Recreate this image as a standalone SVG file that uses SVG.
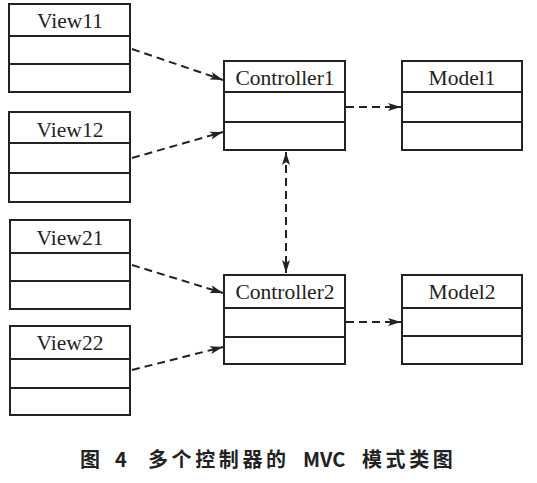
<svg xmlns="http://www.w3.org/2000/svg" width="537" height="483" viewBox="0 0 537 483">
<defs>
<style>
.box{fill:none;stroke:#222;stroke-width:2}
.div{stroke:#222;stroke-width:2}
.lbl{font-family:"Liberation Serif","Times New Roman",serif;font-size:21.5px;fill:#222;text-anchor:middle}
.con{stroke:#222;stroke-width:2;stroke-dasharray:8 5;fill:none}
.cap{font-family:"Noto Sans CJK SC","Noto Sans",sans-serif;font-weight:bold;font-size:20px;fill:#222}
</style>
<marker id="ah" markerUnits="userSpaceOnUse" markerWidth="14" markerHeight="10" refX="13" refY="4" orient="auto-start-reverse" viewBox="0 0 14 8">
<path d="M0,0 L13,4 L0,8 L3,4 z" fill="#222"/>
</marker>
</defs>
<rect width="537" height="483" fill="#fff"/>

<g id="view11">
<rect class="box" x="9" y="4" width="121" height="88"/>
<line class="div" x1="9" y1="36" x2="130" y2="36"/>
<line class="div" x1="9" y1="64" x2="130" y2="64"/>
<text class="lbl" x="70" y="28">View11</text>
</g>
<g id="view12">
<rect class="box" x="9" y="112" width="121" height="90"/>
<line class="div" x1="9" y1="143" x2="130" y2="143"/>
<line class="div" x1="9" y1="173" x2="130" y2="173"/>
<text class="lbl" x="70" y="137">View12</text>
</g>
<g id="view21">
<rect class="box" x="10" y="220" width="120" height="89"/>
<line class="div" x1="10" y1="253" x2="130" y2="253"/>
<line class="div" x1="10" y1="281" x2="130" y2="281"/>
<text class="lbl" x="70" y="245">View21</text>
</g>
<g id="view22">
<rect class="box" x="10" y="326" width="120" height="89"/>
<line class="div" x1="10" y1="359" x2="130" y2="359"/>
<line class="div" x1="10" y1="388" x2="130" y2="388"/>
<text class="lbl" x="70" y="350">View22</text>
</g>
<g id="controller1">
<rect class="box" x="224" y="61" width="121" height="89"/>
<line class="div" x1="224" y1="92" x2="345" y2="92"/>
<line class="div" x1="224" y1="122" x2="345" y2="122"/>
<text class="lbl" x="285" y="85">Controller1</text>
</g>
<g id="model1">
<rect class="box" x="402" y="61" width="120" height="89"/>
<line class="div" x1="402" y1="92" x2="522" y2="92"/>
<line class="div" x1="402" y1="122" x2="522" y2="122"/>
<text class="lbl" x="462" y="85">Model1</text>
</g>
<g id="controller2">
<rect class="box" x="224" y="275" width="121" height="89"/>
<line class="div" x1="224" y1="308" x2="345" y2="308"/>
<line class="div" x1="224" y1="337" x2="345" y2="337"/>
<text class="lbl" x="285" y="299">Controller2</text>
</g>
<g id="model2">
<rect class="box" x="402" y="275" width="120" height="89"/>
<line class="div" x1="402" y1="308" x2="522" y2="308"/>
<line class="div" x1="402" y1="336" x2="522" y2="336"/>
<text class="lbl" x="462" y="299">Model2</text>
</g>

<g id="connectors">
<line class="con" x1="132" y1="49" x2="223" y2="80" marker-end="url(#ah)"/>
<line class="con" x1="132" y1="158" x2="223" y2="132" marker-end="url(#ah)"/>
<line class="con" x1="132" y1="265" x2="223" y2="293" marker-end="url(#ah)"/>
<line class="con" x1="132" y1="370" x2="223" y2="347" marker-end="url(#ah)"/>
<line class="con" x1="346" y1="107" x2="401" y2="107" marker-end="url(#ah)"/>
<line class="con" x1="346" y1="322" x2="401" y2="322" marker-end="url(#ah)"/>
<line class="con" x1="286" y1="152" x2="286" y2="273" marker-start="url(#ah)" marker-end="url(#ah)"/>
</g>

<text class="cap" y="467"><tspan x="80">图</tspan><tspan x="115">4</tspan><tspan x="148" letter-spacing="3.6">多个控制器的</tspan><tspan x="303">MVC</tspan><tspan x="362" letter-spacing="3.6">模式类图</tspan></text>
</svg>
